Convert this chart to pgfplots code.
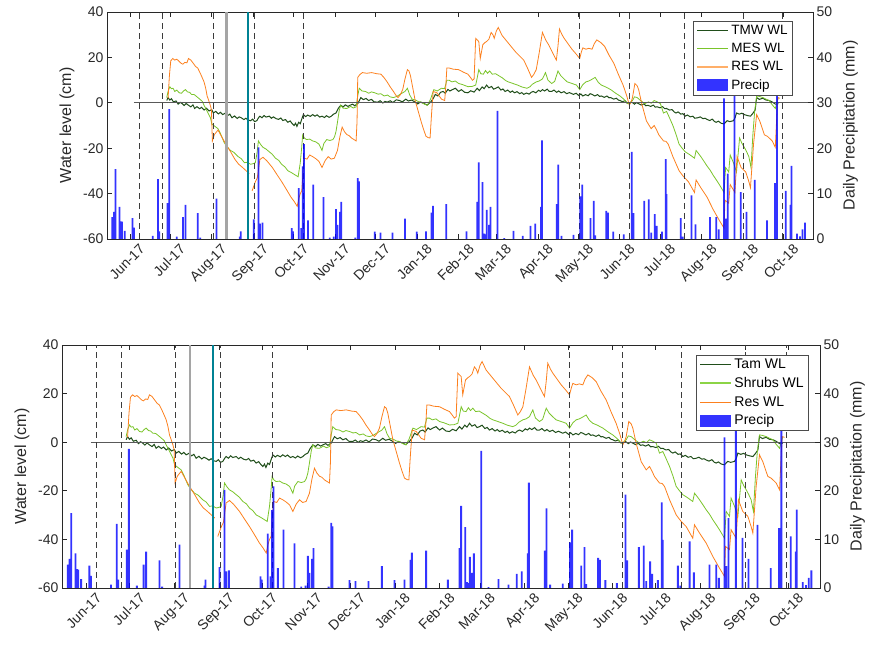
\documentclass[border=0pt]{standalone}
\usepackage{pgfplots}
\pgfplotsset{compat=1.18}
\usepackage{pgfplotstable}
\usepackage{fontspec}
\setmainfont{Liberation Sans}
\definecolor{tmw}{RGB}{32,78,26}
\definecolor{mes}{RGB}{122,196,42}
\definecolor{res}{RGB}{252,128,30}
\definecolor{meslight}{RGB}{140,212,70}
\definecolor{reslight}{RGB}{255,175,105}
\definecolor{tealc}{RGB}{0,130,148}
\definecolor{grayc}{RGB}{165,165,165}
\definecolor{axc}{RGB}{40,40,40}
\definecolor{dashc}{RGB}{60,60,60}

\pgfplotstableread{
day cm
27.5 1.0
28.5 2.3
29.8 1.2
31 1.8
32.5 0.4
34.5 0.8
36 -0.6
37.5 0.2
39.1 -0.4
40.5 -1.2
42 -0.3
43.7 -1.1
45.5 -1.8
47 -0.9
48.3 -2.5
50 -1.7
52 -2.6
53.5 -2.0
55.3 -3.2
57 -2.4
59 -3.6
61 -3.0
62.2 -4.5
64 -3.8
66 -4.9
67.5 -4.2
69.2 -5.2
71 -4.6
73 -5.6
74.5 -5.0
76.1 -6.6
78 -5.8
80 -6.9
81.5 -6.2
83 -6.6
85 -7.4
86.5 -6.8
88 -7.6
90 -7.9
91.5 -7.2
93 -8.3
94.6 -7.9
96 -6.5
96.9 -5.9
98.5 -6.6
100 -5.6
101.5 -6.3
103.9 -5.9
105.5 -6.8
107 -6.2
109 -7.0
110.8 -7.3
112.5 -6.7
114 -7.8
116 -7.4
117.7 -8.6
119.5 -8.0
121 -9.2
122.4 -10.0
123.5 -9.0
124.5 -10.4
125.8 -8.6
127 -9.2
128.2 -7.0
129.3 -5.2
131 -6.1
132.5 -5.4
134.5 -6.0
136.2 -5.2
138 -5.9
139.5 -5.3
141.5 -6.3
143.2 -5.9
145 -6.5
146.5 -5.7
148.5 -6.4
150.1 -5.9
151.8 -5.0
153.6 -4.5
155.3 -2.5
157.1 -1.1
159 -1.8
160.5 -0.9
162.5 -1.6
164 -1.1
166 -0.6
167.5 -1.3
169.8 -0.4
171 1.0
172.1 2.3
174 1.4
176 1.9
177.9 1.0
180 1.5
182 0.4
184.8 0.3
186.5 0.9
188.5 -0.1
190 0.6
191.8 0.3
194 0.9
196 0.1
198.5 1.3
201 1.0
203 0.4
205.6 1.6
207.5 0.8
210 1.2
212.6 0.3
214.5 -0.5
216.5 0.3
219.5 -0.4
221.5 -1.0
224.1 0.3
226 1.8
227.6 3.7
229.5 3.0
231.5 4.6
233.4 5.0
235 4.2
237 5.9
238.5 5.2
240.3 5.8
242.5 6.4
245 5.0
247 5.8
249.5 4.6
251.9 4.4
254 5.3
256.5 4.7
258.8 6.4
260.5 5.4
262.5 7.0
264 6.2
265.8 7.8
267.5 6.6
269.5 7.2
271 6.0
272.7 6.4
274.5 7.0
276.5 5.6
278 6.1
279.6 5.0
281.5 5.6
283.5 4.6
285 5.2
286.6 4.4
288.5 4.9
290.5 4.0
292 4.5
293.5 3.7
295.5 4.3
297.5 3.8
299 4.6
300.5 5.0
302.5 4.4
304.5 5.5
306 5.0
307.4 5.8
309 5.2
311 6.0
312.5 5.0
314.3 5.0
316 5.6
318 4.6
319.5 5.2
321.3 4.4
323.5 4.9
325.5 4.0
327.5 4.5
330.5 3.7
332.5 4.2
334.5 3.2
336 3.9
337.5 3.0
339.5 3.6
341.5 3.1
343 4.0
344.4 3.7
346.5 3.0
348.5 3.6
350 2.8
351.3 3.0
353.5 2.4
355.5 3.0
357 2.2
358.3 2.3
360.5 1.6
362.5 2.0
364 1.2
365.2 1.0
367 0.5
369 0.9
370.5 -0.2
372.2 -0.4
374 0.3
376 -0.6
377.5 0.1
379.1 -0.4
381 -1.0
383 -0.5
384.5 -1.3
386 -1.1
388 -1.6
390 -1.0
391.5 -1.9
393 -1.8
395 -2.2
397 -1.7
398.5 -2.6
399.9 -2.5
402 -3.2
404 -3.0
405.5 -4.0
406.9 -4.5
408.5 -4.0
410.5 -5.0
412 -4.8
413.8 -5.9
415.5 -5.4
417.5 -6.2
419.5 -5.9
421 -6.8
423.1 -6.6
425 -6.2
427 -7.0
428.5 -6.8
430 -7.3
432 -7.8
434 -7.2
435.5 -8.2
436.9 -8.6
438.5 -8.1
440.5 -9.0
442.7 -9.3
444 -8.5
445 -7.9
447 -8.3
449.7 -7.9
451 -6.5
452 -4.5
454 -5.0
456 -4.6
457.8 -5.2
460 -5.6
462.4 -5.9
464 -4.8
465.9 -3.2
467 2.3
469 1.5
471.6 2.0
474 1.2
476.3 1.0
478.5 0.4
481 -0.6
483.2 -0.4
}\tmwdata

\pgfplotstableread{
day cm
27.5 2.3
28.5 5.0
29.8 7.1
31 6.2
32.2 6.4
33.5 5.0
35 5.6
36.8 4.4
38.5 4.2
40 5.2
41.4 5.8
43 4.8
44.5 4.6
46 3.7
48 3.6
50.7 2.3
52.5 1.4
54 0.6
55.3 -1.1
57 -3.0
58.8 -5.2
60 -6.5
61.1 -9.3
63 -10.2
65.7 -11.4
67.5 -13.5
70.3 -17.5
72.5 -19.4
75 -21.0
77.5 -21.8
80.7 -23.7
83 -24.6
85.4 -26.4
87.5 -26.2
90 -27.1
92 -26.8
93.5 -26.4
94.8 -22.0
95.8 -16.8
97.5 -18.4
99.2 -19.6
101.5 -20.4
103.9 -21.6
106 -22.6
108.5 -24.4
111 -25.4
113.1 -27.1
115.5 -28.2
117.7 -29.9
120.5 -30.8
123.5 -31.9
125.4 -32.6
126.2 -29.5
127 -26.4
128 -20.0
128.8 -14.1
130 -15.5
131.6 -16.2
134 -16.0
136.2 -16.8
138.5 -17.2
140.9 -18.2
142 -19.5
143.2 -21.0
144.5 -18.0
146.7 -16.2
149 -16.6
151.3 -16.2
152.5 -15.0
153.6 -12.7
154.7 -8.6
156 -3.5
157.1 -1.1
159 -2.4
161.7 -2.5
164.5 -1.6
166.5 -2.3
168.6 -1.8
169.8 3.0
170.9 6.4
173 5.2
175.5 5.0
178 4.2
180 4.8
182.5 4.4
185 3.8
187 4.0
189.5 3.0
192 3.4
194 2.6
196.4 2.3
199 2.8
201 3.6
203.3 4.4
205 5.0
206.8 6.4
208.5 3.5
210.3 1.6
213 1.2
215 0.5
217.2 0.3
219.5 -0.6
221.8 -1.1
224 1.5
226.5 5.8
229 5.2
232.2 6.4
234.5 6.2
236.2 9.9
238 9.9
240 9.2
242.5 9.6
245 8.5
248 8.0
251.9 7.1
255 7.2
257.7 7.8
259 11.5
260 14.6
261.5 12.8
263.4 12.6
265 14.2
266.5 13.0
268.1 14.0
270 12.6
272.5 12.8
275 11.9
277.5 11.0
280 9.8
282 9.2
285 8.6
288.9 7.8
292 7.0
295.8 6.4
298 7.0
300 8.2
302.8 9.2
305 9.6
307.4 10.5
309.7 13.3
311.5 10.0
314.3 8.5
316.5 9.4
319 14.0
321 12.0
323.5 10.5
325.9 9.2
329 8.6
332.8 7.8
335.2 5.8
337.5 8.0
339.8 9.2
342 9.6
344.5 10.4
346.7 11.2
349 9.0
351.3 7.8
354.5 7.0
358.3 5.8
362 4.2
365.2 3.0
368 1.6
371 -0.4
372.5 0.0
374.5 1.0
376 2.6
378 2.3
380.5 1.0
383.7 -0.4
386.5 0.4
388.5 -0.2
390.7 1.0
393 0.4
395.3 -0.4
397.6 -4.5
399.9 -3.8
402 -6.5
404.6 -10.0
407 -14.0
409.2 -18.2
411.5 -20.0
413.8 -21.6
417 -22.8
420.7 -24.4
421.9 -21.0
423.5 -22.2
425.4 -23.7
428 -26.0
430 -27.8
432.5 -29.8
434.6 -31.9
437 -34.0
439.2 -36.0
442.7 -39.5
443.9 -28.5
446.2 -30.5
447.3 -23.0
449.7 -26.4
452 -30.5
454.3 -15.5
456 -17.8
457.8 -19.6
459.5 -21.5
461.2 -23.7
462.8 -28.5
464.2 -14.1
465.5 -4.0
467 3.0
469 2.8
471.6 2.3
474 1.6
476.3 1.0
478.5 -0.8
480.9 -2.5
483.2 2.3
}\mesdata

\pgfplotstableread{
day cm
28.5 2.0
29.5 12.0
30.5 18.5
32 19.5
33.5 18.8
35 19.2
36.5 18.4
38 17.5
39.5 17.0
41 17.8
42.5 17.6
43.7 19.5
45.5 18.8
47.5 17.2
49 16.0
50.6 15.3
52.5 13.0
54 11.0
55.3 9.2
56.5 6.5
57.6 3.0
58.8 1.0
59.9 -1.0
60.8 -3.0
61.5 -16.8
63 -14.0
65.7 -12.0
68 -14.5
71.5 -18.2
75 -21.5
78.4 -25.0
81 -27.0
84 -28.5
87.7 -30.5
89 -31.2
89.5 nan
91.1 -38.8
93.4 -35.0
95 -33.0
96.9 -25.0
99.2 -24.0
102 -25.5
106.2 -28.5
109.5 -31.5
113.1 -34.7
116.5 -38.0
120 -41.5
122.5 -43.5
124.7 -45.6
126 -42.0
127 -40.0
128.1 -38.8
129.8 -24.4
132 -24.8
134 -23.0
136.2 -23.7
138.5 -24.6
140.9 -25.8
143.2 -28.5
145.5 -25.5
147.8 -23.7
150 -24.8
152.4 -24.4
154.7 -21.0
156.5 -15.0
158.2 -10.7
160 -12.8
161.7 -14.0
163.5 -14.5
165.1 -15.5
167 -16.2
168.6 -16.8
169.3 -8.0
169.8 11.2
171.5 12.5
173.3 13.3
176.5 13.0
180.2 13.3
184 12.8
187.1 12.6
189.5 11.0
191.7 9.2
194 7.0
196.4 5.0
198 3.5
199.8 2.3
201.5 3.5
203.3 5.8
205 10.5
206.8 14.6
208 14.0
209.1 11.9
211 6.0
212.6 1.0
215 -4.0
217.2 -8.6
219 -12.0
220.7 -14.8
222.5 -15.4
223.7 -15.5
224.8 -5.0
226 5.0
228.8 4.4
230.5 3.0
232.2 1.6
234.6 1.0
235.5 8.0
236.2 15.3
238 15.3
241 14.8
245 14.6
248.5 13.5
251.9 12.6
254 11.0
255.3 9.9
256.5 10.5
257.7 28.4
259 27.6
260 27.0
261.1 19.5
263 25.6
264.5 26.5
265.8 27.0
267.5 28.0
269.2 31.0
270.5 30.0
271.5 28.4
273 31.5
274.5 33.2
277.3 29.7
282 26.3
287.7 22.2
293.5 18.8
296.5 15.0
299.3 11.2
301 12.5
302.8 14.6
305 22.0
307.4 31.0
310 27.5
312 25.6
315 22.0
317.8 18.8
319 25.0
320.1 32.5
322 30.0
323.6 28.4
326.5 26.0
329.4 23.6
332.5 21.5
335.2 19.5
336.5 22.5
337.5 24.2
339.8 23.6
342 24.0
344.4 23.6
346 26.0
347.9 27.7
351 26.5
353.7 24.9
357 21.0
360.6 17.4
364 12.5
367.5 7.8
370 3.5
372.2 -1.1
373.5 0.5
374.5 2.3
376.3 8.5
378 7.5
379.1 5.8
381.4 -0.4
384.9 -8.0
388.4 -11.4
390.7 -10.0
392.5 -12.0
394.1 -14.1
397.6 -16.8
399.5 -17.0
401.1 -18.2
404.6 -23.7
409.2 -29.9
412.5 -32.5
416.1 -34.7
420.7 -39.5
421.9 -34.0
425.4 -37.4
430 -41.5
434.6 -47.0
439.2 -51.8
442.7 -55.2
443.4 -42.9
446.2 -44.2
447.3 -36.0
450.8 -39.5
452.4 -23.7
455.4 -28.5
458.9 -30.5
461.2 -34.7
462.4 -37.4
464.7 -18.2
467 -5.2
469.3 -8.0
472.8 -14.1
475.1 -14.8
478.6 -16.8
480.9 -19.6
482.7 2.3
484.4 2.0
}\resdata

\pgfplotstableread{
day mm
-13 4.8
-11.8 6.0
-10.6 15.4
-7.6 7.1
-6.7 3.9
-5.8 3.8
-3.7 1.8
2 4.6
3.1 2.5
17 0.7
21 13.2
22 1.7
28 7.9
29.4 28.6
35 0.5
39.6 4.8
41.4 7.5
50.7 5.7
52.5 0.3
64.5 8.9
81.9 0.5
82.6 1.7
92.3 4.3
95.8 20.2
97 3.4
98.8 3.6
120.7 2.4
121.6 1.7
125.8 11.2
127.7 2.4
128.8 16.0
129.8 20.9
132.8 4.1
136.7 12.0
144.3 9.2
149 0.3
152 0.5
153.6 6.6
154.7 3.1
156.6 6.0
157.5 8.2
168 0.3
169.8 13.4
170.7 12.7
182.5 1.6
186.7 1.4
195.7 1.4
205 4.5
213.7 1.6
220.7 1.7
224.8 5.8
225.8 7.3
235.7 7.7
250.8 1.7
258.8 8.2
260 16.9
262.8 12.5
264 1.2
265 1.0
266 6.4
267.6 3.1
268.8 7.1
273.9 28.2
279 0.2
285.9 1.8
292.8 0.7
298.6 2.9
302 3.4
306.3 7.1
307 21.7
318 7.7
319.2 16.4
321.7 0.7
330.5 0.9
335.6 9.4
337 12.0
343.3 4.6
345.6 8.4
346.7 0.8
355 6.2
356.3 5.8
360.1 1.6
368 1.0
374 19.2
375.2 5.7
383.3 8.4
386.7 8.7
388.4 1.4
391.1 5.5
392.5 2.9
396.5 1.6
399.2 17.6
399.9 9.9
410.4 4.6
412 0.5
418.5 9.6
421.5 3.2
432.3 4.8
437 4.8
438.8 2.1
442.7 31.0
443.9 4.5
445.5 14.4
450.6 36.0
455.2 10.3
459.4 6.0
465.6 13.0
474.8 4.1
480.6 12.3
482.2 38.0
488.7 10.6
492.2 7.5
492.9 16.1
497 1.2
499.3 0.6
501.2 2.1
503 3.6
}\precipdata

\pgfplotsset{
  wlaxis/.style={
    scale only axis, anchor=south west,
    xmin=-17, xmax=509, ymin=-60, ymax=40,
    ytick={-60,-40,-20,0,20,40}, ytick pos=left,
    xtick={0,30,61,92,122,153,183,214,245,273,304,334,365,395,426,457,487},
    xticklabels={Jun-17,Jul-17,Aug-17,Sep-17,Oct-17,Nov-17,Dec-17,Jan-18,Feb-18,Mar-18,Apr-18,May-18,Jun-18,Jul-18,Aug-18,Sep-18,Oct-18},
    xticklabel style={xshift=9pt, yshift=-4pt, rotate=45, anchor=north east, inner sep=0pt},
    tick align=inside, major tick length=5pt,
    tick style={axc, line width=0.6pt},
    axis line style={axc, line width=0.7pt},
    tick label style={font=\fontsize{14}{16}\selectfont, text=axc},
    label style={font=\fontsize{16}{18}\selectfont, text=axc},
    ylabel={Water level (cm)}, ylabel shift=2pt,
    /pgf/number format/assume math mode=true,
    unbounded coords=jump,
  },
  praxis/.style={
    scale only axis, anchor=south west,
    xmin=-17, xmax=509, ymin=0, ymax=50,
    axis y line*=right, axis x line=none,
    ytick={0,10,20,30,40,50},
    tick align=inside, major tick length=5pt,
    tick style={axc, line width=0.6pt},
    axis line style={axc, line width=0.7pt},
    tick label style={font=\fontsize{14}{16}\selectfont, text=axc},
    label style={font=\fontsize{16}{18}\selectfont, text=axc},
    ylabel={Daily Precipitation (mm)}, ylabel shift=4pt,
    /pgf/number format/assume math mode=true,
    legend cell align=left,
    legend style={draw=black!70, fill=white, line width=0.6pt, inner xsep=3pt, inner ysep=2pt, row sep=3.2pt},
  },
  linelegend/.style={legend image code/.code={\draw[##1] (0pt,0pt) -- (31pt,0pt);}},
  barlegend/.style={legend image code/.code={\fill[##1] (0pt,-6pt) rectangle (31pt,6pt);}},
}

\newcommand{\wlcontent}{%
  \addplot[tmw, line width=1pt] table[x=day,y=cm] {\tmwdata};
  \addplot[mes, line width=0.8pt] table[x=day,y=cm] {\mesdata};
  \addplot[res, line width=0.8pt] table[x=day,y=cm] {\resdata};
  \addplot[black!65, line width=0.8pt] coordinates {(3,0) (509,0)};
  \foreach \d in {7,24,62,93,129,335,372,413,457,486} {
    \edef\tmp{\noexpand\addplot[dashc, line width=0.8pt, dash pattern=on 6pt off 4pt] coordinates {(\d,-60) (\d,40)};}
    \tmp
  }
  \addplot[grayc, line width=2.2pt] coordinates {(72,-60) (72,40)};
  \addplot[tealc, line width=2.2pt] coordinates {(88,-60) (88,40)};
}

\begin{document}
\begin{tikzpicture}
\useasboundingbox (0pt,0pt) rectangle (871pt,647pt);
% ---------- top panel ----------
\begin{axis}[wlaxis, at={(107pt,408pt)}, width=706pt, height=227pt]
\wlcontent
\end{axis}
\begin{axis}[praxis, at={(107pt,408pt)}, width=706pt, height=227pt,
  legend style={at={(0.9717,0.960)}, anchor=north east, font=\fontsize{13.5}{15}\selectfont}]
\addlegendimage{linelegend, color=tmw, line width=0.8pt}
\addlegendimage{linelegend, color=mes, line width=0.8pt}
\addlegendimage{linelegend, color=reslight, line width=2pt}
\addplot[barlegend, ybar, bar width=1.3, fill=blue, fill opacity=0.8, draw=none] table[x=day,y=mm] {\precipdata};
\legend{TMW WL, MES WL, RES WL, Precip}
\end{axis}
% ---------- bottom panel ----------
\begin{axis}[wlaxis, at={(62pt,59pt)}, width=758pt, height=243pt]
\wlcontent
\end{axis}
\begin{axis}[praxis, at={(62pt,59pt)}, width=758pt, height=243pt,
  legend style={at={(0.9855,0.959)}, anchor=north east, font=\fontsize{14}{16}\selectfont}]
\addlegendimage{linelegend, color=tmw, line width=0.8pt}
\addlegendimage{linelegend, color=meslight, line width=2pt}
\addlegendimage{linelegend, color=res, line width=0.8pt}
\addplot[barlegend, ybar, bar width=1.3, fill=blue, fill opacity=0.8, draw=none] table[x=day,y=mm] {\precipdata};
\legend{Tam WL, Shrubs WL, Res WL, Precip}
\end{axis}
\end{tikzpicture}
\end{document}
